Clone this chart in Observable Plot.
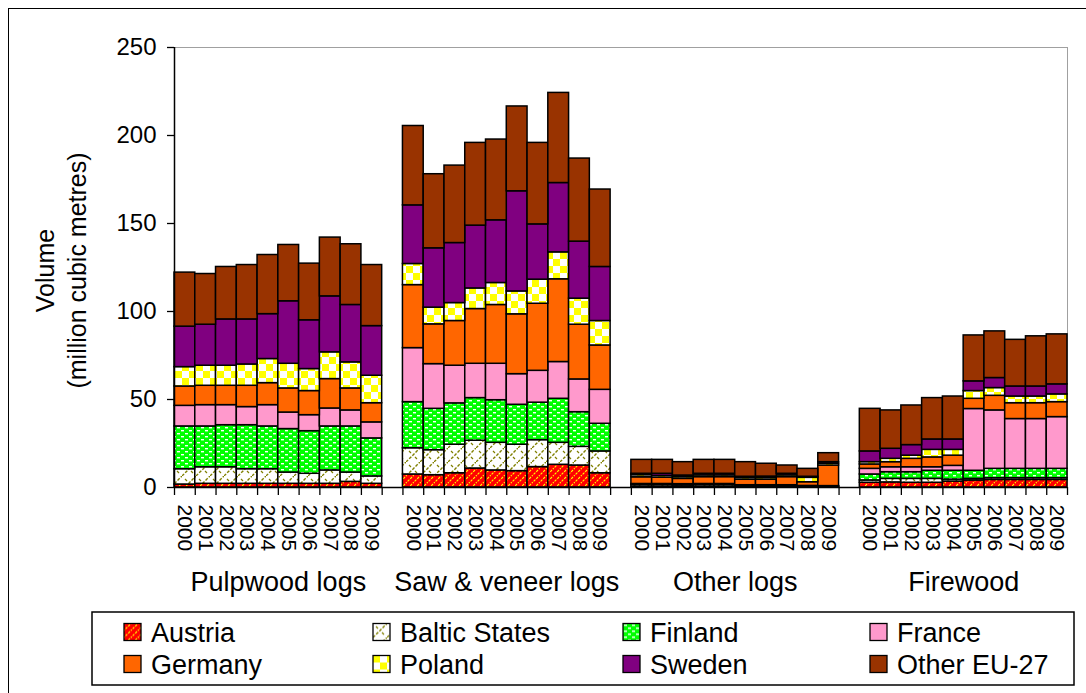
<!DOCTYPE html>
<html><head><meta charset="utf-8">
<script src="https://cdn.jsdelivr.net/npm/d3@7"></script>
<script src="https://cdn.jsdelivr.net/npm/@observablehq/plot@0.6"></script>
<style>
html,body{margin:0;padding:0;background:#fff;overflow:hidden;width:1086px;height:693px;}
#outer{position:absolute;left:8px;top:8px;width:1100px;height:700px;border-left:1.5px solid #000;border-top:1.5px solid #000;box-sizing:border-box;}
#chart{position:absolute;left:0;top:0;}
#legend{position:absolute;left:0;top:600px;}
</style></head><body>
<svg width="0" height="0" style="position:absolute">
  <defs>
    <pattern id="p-austria" patternUnits="userSpaceOnUse" width="7" height="7">
      <rect width="7" height="7" fill="#ff0000"/>
      <path d="M-1,8 L8,-1 M-1,1 L1,-1 M6,8 L8,6" stroke="#ffff00" stroke-width="1.1" stroke-dasharray="2.5,1.2"/>
    </pattern>
    <pattern id="p-baltic" patternUnits="userSpaceOnUse" width="14" height="14">
      <rect width="14" height="14" fill="#ffffff"/>
      <path d="M0,14 L14,0" stroke="#808000" stroke-width="1.4" stroke-dasharray="3,1.5"/>
      <path d="M3,3 L5,5 M9,9 L11,11" stroke="#808000" stroke-width="1.2"/>
    </pattern>
    <pattern id="p-finland" patternUnits="userSpaceOnUse" width="8" height="6">
      <rect width="8" height="6" fill="#00ff00"/>
      <rect x="1" y="1" width="3" height="1.4" fill="#ffffff"/>
      <rect x="5" y="4" width="3" height="1.4" fill="#ffffff"/>
    </pattern>
    <pattern id="p-poland" patternUnits="userSpaceOnUse" width="14" height="14">
      <rect width="14" height="14" fill="#ffffff"/>
      <rect width="7" height="7" fill="#ffff00"/>
      <rect x="7" y="7" width="7" height="7" fill="#ffff00"/>
    </pattern>
  </defs>
</svg>
<div id="outer"></div>
<div id="chart"></div>
<svg id="legend" width="1086" height="93"></svg>
<script>
// ---- data ----
const countries = ["Austria", "Baltic States", "Finland", "France", "Germany", "Poland", "Sweden", "Other EU-27"];
const fills = ["url(#p-austria)", "url(#p-baltic)", "url(#p-finland)", "#ff99cc", "#ff6600", "url(#p-poland)", "#800080", "#993300"];
const categories = ["Pulpwood logs", "Saw & veneer logs", "Other logs", "Firewood"];
const years = ["2000", "2001", "2002", "2003", "2004", "2005", "2006", "2007", "2008", "2009"];
const yTicks = [0, 50, 100, 150, 200, 250];

// rows = years 2000..2009, columns = countries (order above), million m3
const pulpwoodLogs = [
  [1.7, 8.7, 24.3, 11.7, 11.0, 11.0, 23.0, 30.7],
  [2.1, 9.4, 23.2, 12.1, 11.0, 11.4, 23.3, 28.8],
  [2.1, 9.4, 23.9, 11.4, 11.0, 11.4, 26.3, 29.8],
  [2.1, 8.3, 25.0, 10.3, 12.1, 12.1, 25.6, 30.9],
  [2.1, 8.3, 24.3, 12.1, 12.5, 13.7, 25.5, 33.6],
  [2.1, 6.4, 24.7, 9.4, 13.7, 14.0, 35.5, 32.0],
  [2.1, 5.7, 24.2, 9.1, 13.7, 12.5, 27.7, 32.2],
  [2.1, 7.6, 25.0, 10.2, 16.7, 15.2, 31.8, 33.4],
  [3.2, 5.3, 26.2, 9.1, 12.5, 14.8, 32.6, 34.5],
  [2.1, 4.2, 21.6, 9.1, 10.9, 15.6, 28.2, 34.7]
];
const sawVeneerLogs = [
  [7.4, 14.9, 26.2, 30.7, 35.8, 12.0, 33.3, 45.1],
  [7.0, 14.2, 23.5, 25.4, 22.6, 9.5, 33.7, 42.1],
  [8.1, 16.2, 23.5, 21.4, 25.4, 10.2, 34.1, 44.0],
  [10.8, 15.8, 24.2, 19.5, 31.1, 11.7, 35.7, 47.0],
  [9.7, 15.7, 24.2, 20.7, 33.4, 12.5, 35.6, 45.9],
  [9.3, 15.0, 22.7, 17.4, 34.0, 13.0, 56.9, 48.2],
  [11.6, 15.3, 21.3, 18.1, 38.1, 13.7, 31.4, 46.3],
  [12.9, 12.5, 25.0, 20.9, 47.0, 15.3, 39.4, 51.2],
  [12.5, 10.6, 19.7, 18.6, 31.1, 14.8, 32.4, 47.2],
  [8.1, 12.4, 15.7, 19.3, 25.2, 13.9, 30.7, 44.0]
];
const otherLogs = [
  [0.3, 1.0, 0.4, 0.3, 3.8, 1.2, 0.8, 7.9],
  [0.3, 1.0, 0.4, 0.3, 3.6, 1.0, 1.2, 7.9],
  [0.3, 0.9, 0.4, 0.3, 3.0, 1.0, 0.9, 7.6],
  [0.3, 1.0, 0.4, 0.3, 3.9, 1.0, 0.9, 7.9],
  [0.3, 1.0, 0.4, 0.3, 3.9, 1.0, 0.9, 7.9],
  [0.2, 0.5, 0.3, 0.3, 3.1, 1.0, 0.7, 8.3],
  [0.2, 0.5, 0.3, 0.3, 3.1, 1.0, 0.8, 7.3],
  [0.2, 0.5, 0.3, 0.3, 4.6, 1.0, 0.9, 4.7],
  [0.2, 0.3, 0.2, 0.2, 2.1, 2.5, 0.6, 4.5],
  [0.2, 0.2, 0.2, 0.2, 11.7, 1.0, 0.9, 5.1]
];
const firewood = [
  [2.7, 1.3, 3.4, 3.2, 2.5, 1.3, 6.1, 24.2],
  [2.9, 2.0, 3.8, 2.8, 2.9, 1.9, 5.7, 21.8],
  [2.7, 2.2, 3.8, 2.8, 4.8, 1.8, 6.0, 22.5],
  [2.7, 2.2, 4.6, 2.0, 5.6, 4.3, 5.9, 23.5],
  [3.4, 1.1, 5.0, 2.8, 5.8, 3.3, 5.9, 24.4],
  [4.0, 0.9, 4.6, 35.1, 5.8, 4.4, 5.5, 26.1],
  [4.3, 1.0, 5.3, 33.2, 8.3, 4.4, 5.7, 26.5],
  [4.3, 1.0, 5.3, 28.3, 9.0, 3.8, 5.7, 26.5],
  [4.3, 1.0, 5.3, 28.3, 9.0, 3.8, 5.7, 28.5],
  [4.3, 1.0, 5.3, 29.4, 8.5, 4.4, 5.7, 28.4]
];
const seriesByCategory = [pulpwoodLogs, sawVeneerLogs, otherLogs, firewood];

// ---- build tables ----
const slot = years.length + 1; // one empty slot between groups
const data = [];
countries.forEach((country, k) => {
  seriesByCategory.forEach((rows, c) => {
    rows.forEach((row, i) => {
      data.push({country, category: categories[c], year: years[i], x1: c * slot + i, x2: c * slot + i + 1, value: row[k]});
    });
  });
});
const yearLabels = [];
const boundaries = [];
categories.forEach((cat, c) => {
  years.forEach((y, i) => yearLabels.push({x: c * slot + i + 0.5, year: y}));
  for (let i = 0; i <= years.length; i++) boundaries.push(c * slot + i);
});
const catLabels = categories.map((name, c) => ({name, x: c * slot + years.length / 2}));

const font = "'Liberation Sans', Arial, sans-serif";

const chart = Plot.plot({
  width: 1086, height: 605,
  marginLeft: 174, marginRight: 19, marginTop: 47, marginBottom: 118,
  x: {domain: [0, categories.length * slot - 1], axis: null},
  y: {domain: [0, 250], axis: null},
  color: {domain: countries, range: fills},
  style: {fontFamily: font, background: "transparent", overflow: "visible", color: "#000"},
  marks: [
    Plot.frame({stroke: "#a0a0a0", strokeWidth: 1}),
    Plot.rectY(data, Plot.stackY({x1: "x1", x2: "x2", y: "value", fill: "country", stroke: "#000", strokeWidth: 1.5})),
    Plot.axisY({ticks: yTicks, tickSize: 7, tickPadding: 11, fontSize: 24, label: null, tickFormat: d => String(d), strokeWidth: 1.3}),
    Plot.ruleX([0], {stroke: "#000", strokeWidth: 1.5}),
    Plot.ruleY([0], {stroke: "#000", strokeWidth: 1.5}),
    Plot.axisX({ticks: boundaries, tickSize: 8, tickFormat: () => "", label: null, strokeWidth: 1.3}),
    Plot.text(yearLabels, {x: "x", y: () => 0, text: "year", rotate: 90, textAnchor: "start", lineAnchor: "middle", dy: 17, fontSize: 21}),
    Plot.text(catLabels, {x: "x", y: () => 0, text: "name", lineAnchor: "bottom", dy: 103, fontSize: 27}),
    Plot.text(["Volume"], {frameAnchor: "left", text: d => d, rotate: -90, dx: -121, dy: 3, textAnchor: "middle", lineAnchor: "bottom", fontSize: 25}),
    Plot.text(["(million cubic metres)"], {frameAnchor: "left", text: d => d, rotate: -90, dx: -89, dy: 3, textAnchor: "middle", lineAnchor: "bottom", fontSize: 25})
  ]
});
document.getElementById("chart").appendChild(chart);

// ---- legend ----
const leg = d3.select("#legend");
leg.append("rect").attr("x", 92).attr("y", 12).attr("width", 982).attr("height", 73)
  .attr("fill", "#fff").attr("stroke", "#000").attr("stroke-width", 1.5);
const colX = [124, 373, 623, 870];
const rowY = [23.5, 55.5];
const items = leg.selectAll("g.item").data(countries).join("g").attr("class", "item")
  .attr("transform", (d, i) => `translate(${colX[i % 4]},${rowY[Math.floor(i / 4)]})`);
items.append("rect").attr("width", 17).attr("height", 17)
  .attr("fill", (d, i) => fills[i]).attr("stroke", "#000").attr("stroke-width", 1.3);
items.append("text").attr("x", 27).attr("y", 18).text(d => d)
  .attr("font-family", font).attr("font-size", 27).attr("fill", "#000");
</script>
</body></html>
